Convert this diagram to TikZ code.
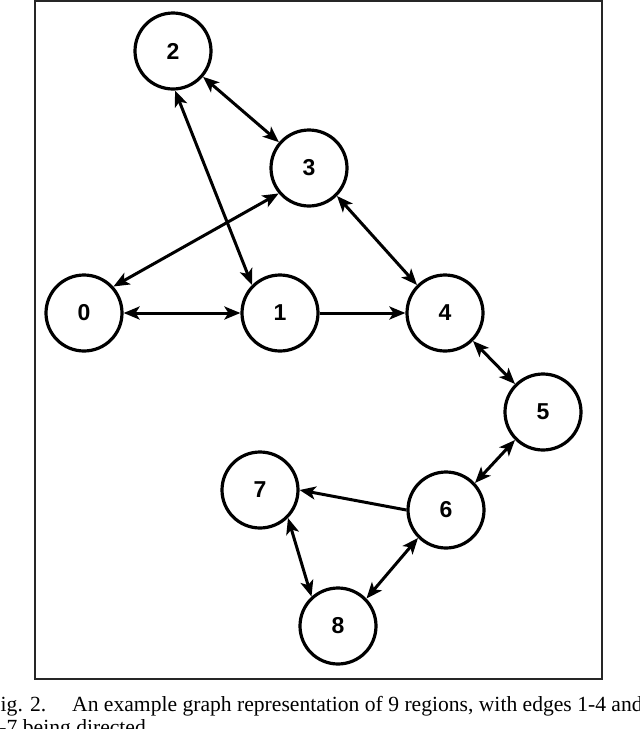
\documentclass[tikz,border=0pt]{standalone}
\usepackage{fontspec}
\setmainfont{Liberation Serif}
\newfontfamily\numfont{Liberation Sans}
\usetikzlibrary{arrows.meta}
\begin{document}
\begin{tikzpicture}[x=1pt,y=-1pt,
  region/.style={circle,draw,line width=3.2pt,minimum size=76pt,inner sep=0pt,
    font=\numfont\bfseries\fontsize{23}{23}\selectfont},
  edge/.style={line width=3pt},
  tipb/.style={{Stealth[length=16pt,width=13pt,inset=4pt]}-{Stealth[length=16pt,width=13pt,inset=4pt]}},
  tipe/.style={-{Stealth[length=16pt,width=13pt,inset=4pt]}},
  captxt/.style={anchor=base west,inner sep=0pt,font=\fontsize{21.6}{24}\selectfont}]
\useasboundingbox (0,0) rectangle (640,729);
\draw[line width=1.8pt,draw=black!85] (35,1) rectangle (602,679);
\node[region] (n2) at (173,51) {2};
\node[region] (n3) at (309,168) {3};
\node[region] (n0) at (84,313) {0};
\node[region] (n1) at (280,313) {1};
\node[region] (n4) at (445,313) {4};
\node[region] (n5) at (543,412) {5};
\node[region] (n6) at (446,510) {6};
\node[region] (n7) at (260,490) {7};
\node[region] (n8) at (338,626) {8};
\draw[edge,tipb] (n2) -- (n3);
\draw[edge,tipb] (n2.-87) -- (n1.135);
\draw[edge,tipb] (n3.220) -- (n0.42);
\draw[edge,tipb] (n3.-45) -- (n4.135);
\draw[edge,tipb] (n0.east) -- (n1.west);
\draw[edge,tipe] (n1.east) -- (n4.west);
\draw[edge,tipb] (n4.-45) -- (n5.135);
\draw[edge,tipb] (n5.225) -- (n6.43);
\draw[edge,tipe] (n6.west) -- (n7.east);
\draw[edge,tipb] (n7.-45) -- (n8.132);
\draw[edge,tipb] (n8.44) -- (n6.225);
\node[captxt] (cap1) at (-11.5,711) {Fig. 2.};
\node[captxt] (cap2) at (72,711) {An example graph representation of 9 regions, with edges 1-4 and};
\node[captxt] (cap3) at (-11.5,734) {6-7 being directed.};
\end{tikzpicture}
\end{document}
